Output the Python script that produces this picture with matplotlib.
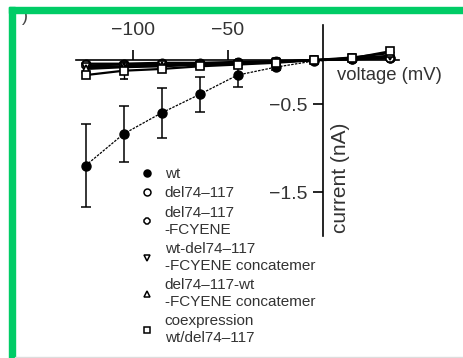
import matplotlib
matplotlib.use("Agg")
import matplotlib.pyplot as plt
from matplotlib.patches import Rectangle
from matplotlib.lines import Line2D

plt.rcParams['font.family'] = ['Liberation Sans', 'DejaVu Sans']

voltage = [-125, -105, -85, -65, -45, -25, -5, 15, 35]
wt = [-1.20, -0.84, -0.60, -0.39, -0.17, -0.08, -0.01, 0.01, 0.02]
wt_err = [0.47, 0.32, 0.28, 0.20, 0.13, 0.03, 0.0, 0.0, 0.0]
del74 = [-0.04, -0.04, -0.03, -0.03, -0.02, -0.01, 0.0, 0.01, 0.02]
del74_fcyene = [-0.06, -0.05, -0.05, -0.04, -0.03, -0.02, 0.0, 0.01, 0.03]
wt_del_conc = [-0.08, -0.07, -0.06, -0.05, -0.04, -0.02, 0.0, 0.02, 0.05]
del_wt_conc = [-0.10, -0.08, -0.07, -0.05, -0.04, -0.02, 0.0, 0.03, 0.08]
coexp = [-0.17, -0.12, -0.10, -0.07, -0.05, -0.03, 0.0, 0.02, 0.10]
coexp_err = [0.03, 0.09, 0.02, 0.02, 0.01, 0.01, 0.0, 0.01, 0.03]

labels = ["wt", "del74\u2013117", "del74\u2013117\n-FCYENE",
          "wt-del74\u2013117\n-FCYENE concatemer",
          "del74\u2013117-wt\n-FCYENE concatemer",
          "coexpression\nwt/del74\u2013117"]
markers = ['o', 'o', '8', 'v', '^', 's']
xticks = [-100, -50]
xticklabels = ["\u2212100", "\u221250"]
yticks = [-0.5, -1.5]
yticklabels = ["\u22120.5", "\u22121.5"]

W, H = 463, 358
fig = plt.figure(figsize=(W / 100, H / 100), dpi=100)

# axes placement in pixels
x0, x1 = 76, 399
ytop, ybot = 25, 236
ax = fig.add_axes([x0 / W, 1 - ybot / H, (x1 - x0) / W, (ybot - ytop) / H])
ax.set_xlim(-130, 40)
ax.set_ylim(-2.0, 0.4)
ax.patch.set_visible(False)

txt = '#333333'

# series
ax.errorbar(voltage, wt, yerr=wt_err, color='black', lw=0.9, ls=(0, (2, 1)),
            marker=markers[0], ms=6.5, mfc='black', mec='black', capsize=3.5,
            elinewidth=1.1, capthick=1.1, zorder=3)
open_kw = dict(color='black', lw=1.6, mfc='white', mec='black', mew=1.2, zorder=4)
ax.plot(voltage, del74, marker=markers[1], ms=6, **open_kw)
ax.plot(voltage, del74_fcyene, marker=markers[2], ms=6, **open_kw)
ax.plot(voltage, wt_del_conc, marker=markers[3], ms=6, **open_kw)
ax.plot(voltage, del_wt_conc, marker=markers[4], ms=6, **open_kw)
ax.errorbar(voltage, coexp, yerr=coexp_err, marker=markers[5], ms=6, capsize=3,
            elinewidth=1.0, capthick=1.0, **open_kw)

# spines through origin
ax.spines['right'].set_visible(False)
ax.spines['bottom'].set_visible(False)
ax.spines['top'].set_position(('data', 0))
ax.spines['left'].set_position(('data', 0))
for s in ['top', 'left']:
    ax.spines[s].set_linewidth(1.2)
ax.xaxis.set_ticks_position('top')
ax.xaxis.set_label_position('top')
ax.set_xticks(xticks)
ax.set_xticklabels(xticklabels)
ax.set_yticks(yticks)
ax.set_yticklabels(yticklabels)
ax.tick_params(axis='x', direction='out', length=7.5, width=1.2, pad=8,
               labelsize=14, labelcolor=txt)
ax.tick_params(axis='y', direction='out', length=7, width=1.2, pad=4,
               labelsize=14, labelcolor=txt)

ax.text(337 / W, 1 - 75 / H, "voltage (mV)", transform=fig.transFigure,
        fontsize=13.3, ha='left', va='center', color=txt)
ax.text(340 / W, 1 - 178 / H, "current (nA)", transform=fig.transFigure,
        fontsize=15, ha='center', va='center', rotation=90, color=txt)

handles = []
for i, m in enumerate(markers):
    fc = 'black' if i == 0 else 'white'
    handles.append(Line2D([], [], ls='none', marker=m, ms=5, mfc=fc, mec='black', mew=1.1))
leg = ax.legend(handles, labels, loc='upper left', bbox_to_anchor=(141 / W, 1 - 167 / H),
                bbox_transform=fig.transFigure, frameon=False, fontsize=11,
                handlelength=0.8, handletextpad=0.75, labelspacing=0.36,
                borderpad=0, borderaxespad=0, numpoints=1)
for t in leg.get_texts():
    t.set_color(txt)
    t.set_linespacing(1.24)

# panel letter fragment
fig.text(22 / W, 1 - 8 / H, ")", fontsize=13, ha='left', va='top', color='#444444')

# green frame
green = '#00CC66'
fig.patches.append(Rectangle((9 / W, 0), 6 / W, 1 - 7 / H, transform=fig.transFigure,
                             color=green, zorder=10))
fig.patches.append(Rectangle((9 / W, 1 - 13 / H), 1 - 9 / W, 6 / H, transform=fig.transFigure,
                             color=green, zorder=10))
fig.patches.append(Rectangle((15 / W, 0), 1, 1.5 / H, transform=fig.transFigure,
                             color='#dddddd', zorder=10))

fig.savefig("out.png", dpi=100)
